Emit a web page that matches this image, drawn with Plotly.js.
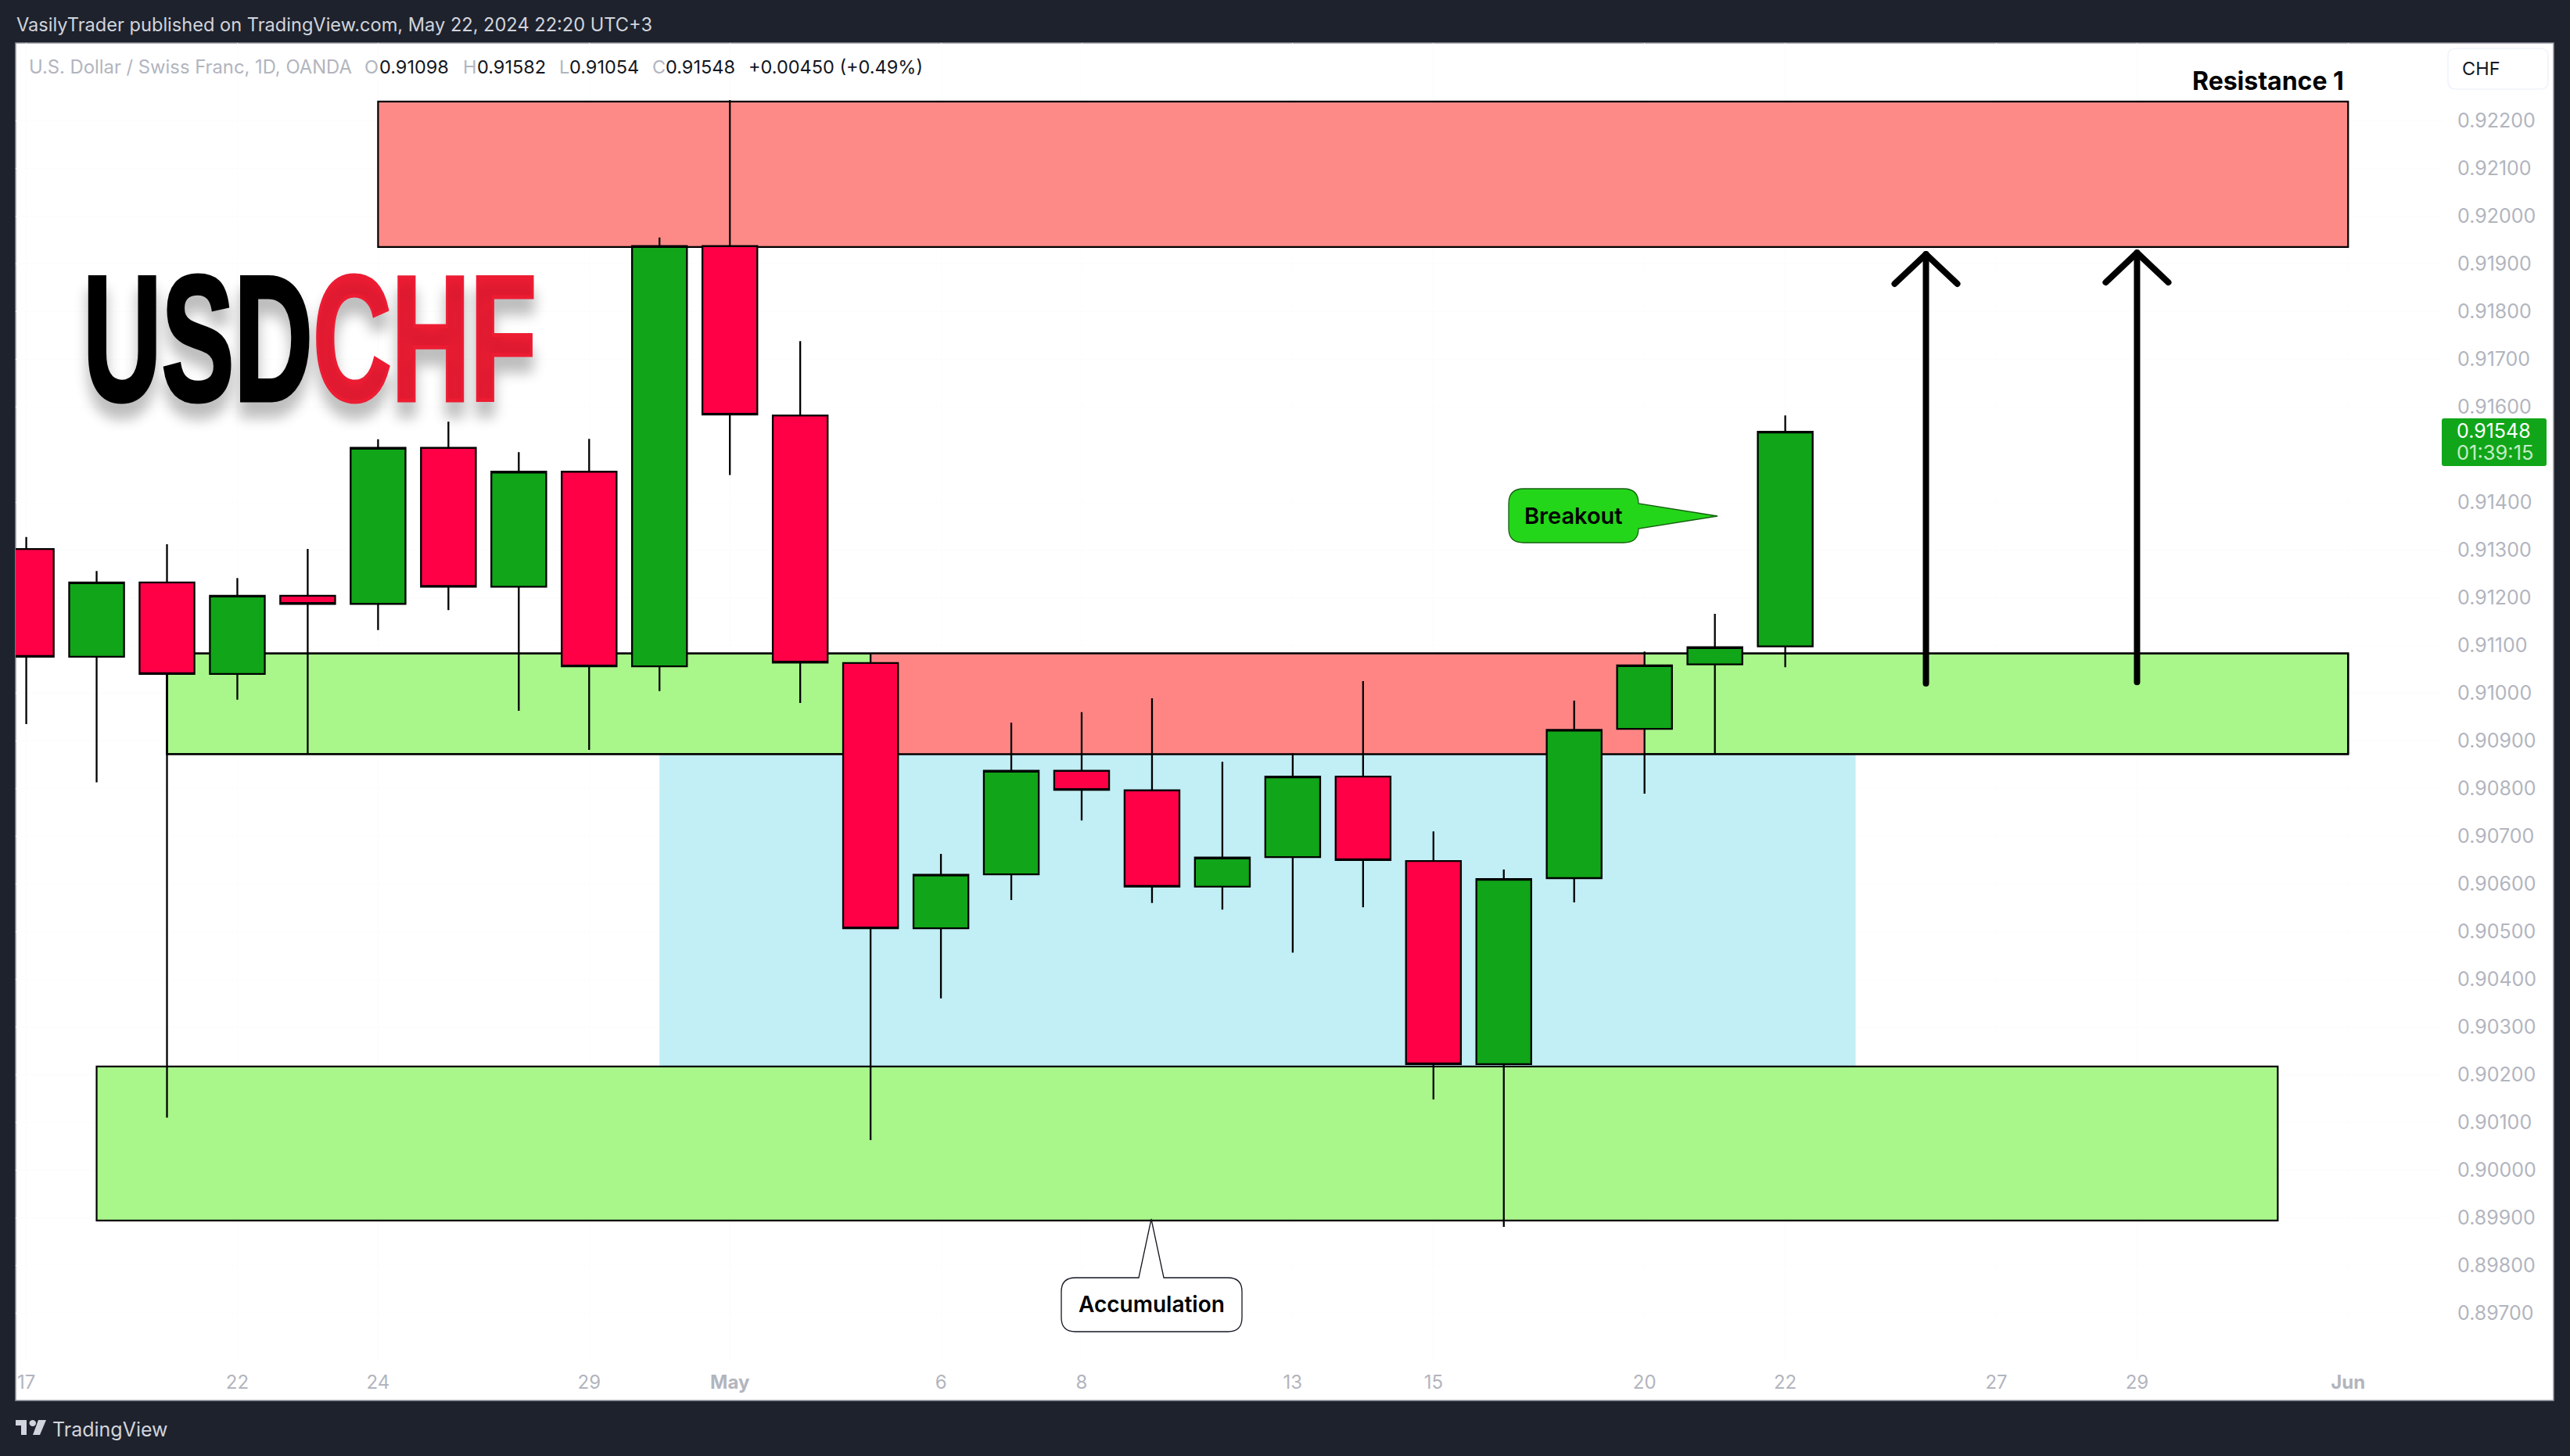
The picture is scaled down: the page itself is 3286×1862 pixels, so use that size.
<!DOCTYPE html>
<html>
<head>
<meta charset="utf-8">
<title>USDCHF</title>
<script src="https://cdn.plot.ly/plotly-3.0.1.min.js"></script>
<style>
	html, body {margin: 0; padding: 0; background: #1e222d;}
	#chart {width: 3286px; height: 1862px;}
</style>
</head>
<body>
<div id="chart"></div>
<script>
// daily candles, x is the trading day counted from Apr 17
var day_index = [0, 1, 2, 3, 4, 5, 6, 7, 8, 9, 10, 11, 12, 13, 14, 15, 16, 17, 18, 19, 20, 21, 22, 23, 24, 25];
var open_values = [0.91302, 0.91076, 0.91232, 0.91040, 0.91204, 0.91187, 0.91514, 0.91223, 0.91464, 0.91056, 0.91937, 0.91582, 0.91063, 0.90507, 0.90620, 0.90837, 0.90796, 0.90594, 0.90656, 0.90825, 0.90648, 0.90222, 0.90612, 0.90925, 0.91060, 0.91098];
var high_values = [0.91327, 0.91256, 0.91312, 0.91241, 0.91302, 0.91532, 0.91569, 0.91505, 0.91533, 0.91955, 0.92243, 0.91738, 0.91082, 0.90663, 0.90938, 0.90960, 0.90989, 0.90856, 0.90874, 0.91025, 0.90710, 0.90630, 0.90984, 0.91087, 0.91166, 0.91582];
var low_values = [0.90935, 0.90813, 0.90110, 0.90986, 0.90871, 0.91132, 0.91174, 0.90963, 0.90881, 0.91004, 0.91457, 0.90979, 0.90063, 0.90360, 0.90566, 0.90733, 0.90560, 0.90546, 0.90456, 0.90551, 0.90148, 0.89881, 0.90561, 0.90789, 0.90871, 0.91054];
var close_values = [0.91076, 0.91232, 0.91040, 0.91204, 0.91187, 0.91514, 0.91223, 0.91464, 0.91056, 0.91937, 0.91584, 0.91064, 0.90507, 0.90619, 0.90837, 0.90797, 0.90594, 0.90655, 0.90825, 0.90650, 0.90222, 0.90610, 0.90923, 0.91058, 0.91096, 0.91548];

// axis labels
var x_tick_days = [0, 3, 5, 8, 10, 13, 15, 18, 20, 23, 25, 28, 30, 33];
var x_tick_labels = ['17', '22', '24', '29', '<b>May</b>', '6', '8', '13', '15', '20', '22', '27', '29', '<b>Jun</b>'];
var y_tick_prices = [0.922, 0.921, 0.920, 0.919, 0.918, 0.917, 0.916, 0.914, 0.913, 0.912, 0.911, 0.910, 0.909, 0.908, 0.907, 0.906, 0.905, 0.904, 0.903, 0.902, 0.901, 0.900, 0.899, 0.898, 0.897];
var y_tick_labels = y_tick_prices.map(function(p){ return p.toFixed(5); });

// zones drawn on the chart: first day, last day, lower price, upper price
var resistance_zone = [5, 33, 0.91935, 0.92240];
var upper_support_zone = [2, 33, 0.90872, 0.91083];
var flipped_zone = [12, 23, 0.90872, 0.91083];
var accumulation_zone = [9, 26, 0.90217, 0.90872];
var lower_support_zone = [1, 32, 0.89894, 0.90217];

// the two arrows: day, price at the foot, price at the tip
var arrow_days = [27, 30];
var arrow_feet = [0.91020, 0.91023];
var arrow_tips = [0.91920, 0.91923];

// plot rectangle in page pixels, only used to place the page furniture
var plot_left = 20, plot_right = 3125, plot_top = 55, plot_bottom = 1740;
function fx(px){ return (px - plot_left) / (plot_right - plot_left); }
function fy(py){ return 1 - (py - plot_top) / (plot_bottom - plot_top); }
function pt(px, py){ return fx(px) + ',' + fy(py); }

function note(text, px, py, anchor, size, color, weight, family){
	return {
		text: text, xref: 'paper', yref: 'paper', x: fx(px), y: fy(py),
		xanchor: anchor, yanchor: 'middle', showarrow: false,
		font: {family: family || 'Inter', size: size, color: color, weight: weight || 400}
	};
}

function zone(z, fill, line){
	return {
		type: 'rect', layer: 'between', xref: 'x', yref: 'y',
		x0: z[0], x1: z[1], y0: z[2], y1: z[3],
		fillcolor: fill, line: line ? {color: '#000000', width: 2.2} : {width: 0}
	};
}

function pageBox(x0, y0, x1, y1, fill, line, width, r, layer){
	var path = 'M' + pt(x0 + r, y0) + ' L' + pt(x1 - r, y0) + ' Q' + pt(x1, y0) + ' ' + pt(x1, y0 + r) +
		' L' + pt(x1, y1 - r) + ' Q' + pt(x1, y1) + ' ' + pt(x1 - r, y1) +
		' L' + pt(x0 + r, y1) + ' Q' + pt(x0, y1) + ' ' + pt(x0, y1 - r) +
		' L' + pt(x0, y0 + r) + ' Q' + pt(x0, y0) + ' ' + pt(x0 + r, y0) + ' Z';
	return {type: 'path', layer: layer || 'above', xref: 'paper', yref: 'paper', path: path,
		fillcolor: fill, line: {color: line, width: width}};
}

function polygon(points, fill){
	var path = 'M' + points.map(function(p){ return pt(p[0], p[1]); }).join(' L') + ' Z';
	return {type: 'path', layer: 'above', xref: 'paper', yref: 'paper', path: path, fillcolor: fill, line: {width: 0}};
}

// candles first, then one line trace per arrow so they use the same axes
var candles = {
	type: 'candlestick',
	x: day_index, open: open_values, high: high_values, low: low_values, close: close_values,
	increasing: {line: {color: '#000000', width: 2.3}, fillcolor: '#11a519'},
	decreasing: {line: {color: '#000000', width: 2.3}, fillcolor: '#ff0047'},
	whiskerwidth: 0,
	hoverinfo: 'skip',
	showlegend: false
};
var data = [candles];
for (var i = 0; i < arrow_days.length; i++){
	data.push({
		type: 'scatter', mode: 'lines', hoverinfo: 'skip', showlegend: false,
		x: [arrow_days[i], arrow_days[i], null, arrow_days[i] - 0.445, arrow_days[i], arrow_days[i] + 0.445],
		y: [arrow_feet[i], arrow_tips[i], null, arrow_tips[i] - 0.00062, arrow_tips[i], arrow_tips[i] - 0.00062],
		line: {color: '#000000', width: 8}
	});
}

var shapes = [
	{type: 'rect', layer: 'below', xref: 'paper', yref: 'paper', x0: fx(20), x1: fx(3265), y0: fy(55), y1: fy(1791),
		fillcolor: '#ffffff', line: {color: '#9598a1', width: 1.5}},
	zone(resistance_zone, '#fd8a87', true),
	zone(accumulation_zone, '#c2eef5', false),
	zone(lower_support_zone, '#a9f68b', true),
	zone(upper_support_zone, '#a9f68b', true),
	zone(flipped_zone, '#ff8585', false),
	zone(upper_support_zone, 'rgba(0,0,0,0)', true),
	// price scale currency button and last price tag
	pageBox(3130, 62, 3258, 114, '#ffffff', '#f0f3fa', 1.5, 10),
	pageBox(3122, 535, 3256, 596, '#11a619', '#11a619', 0, 3),
	// tail of the accumulation note and the breakout note
	{type: 'path', layer: 'above', xref: 'paper', yref: 'paper', fillcolor: '#ffffff', line: {color: '#131722', width: 1.3},
		path: 'M' + pt(1375, 1634) + ' L' + pt(1456, 1634) + ' L' + pt(1472, 1559) + ' L' + pt(1488, 1634) + ' L' + pt(1570, 1634) +
			' Q' + pt(1588, 1634) + ' ' + pt(1588, 1652) + ' L' + pt(1588, 1685) + ' Q' + pt(1588, 1703) + ' ' + pt(1570, 1703) +
			' L' + pt(1375, 1703) + ' Q' + pt(1357, 1703) + ' ' + pt(1357, 1685) + ' L' + pt(1357, 1652) + ' Q' + pt(1357, 1634) + ' ' + pt(1375, 1634) + ' Z'},
	{type: 'path', layer: 'above', xref: 'paper', yref: 'paper', fillcolor: '#24d61a', line: {color: '#14600f', width: 1.3},
		path: 'M' + pt(1948, 625) + ' L' + pt(2076, 625) + ' Q' + pt(2095, 625) + ' ' + pt(2095, 644) + ' L' + pt(2196, 660) + ' L' + pt(2095, 676) +
			' Q' + pt(2095, 694) + ' ' + pt(2076, 694) + ' L' + pt(1948, 694) + ' Q' + pt(1929, 694) + ' ' + pt(1929, 676) + ' L' + pt(1929, 644) + ' Q' + pt(1929, 625) + ' ' + pt(1948, 625) + ' Z'},
	// TradingView mark in the footer
	polygon([[20, 1816], [34, 1816], [34, 1835], [27, 1835], [27, 1823], [20, 1823]], '#d1d4dc'),
	{type: 'circle', layer: 'above', xref: 'paper', yref: 'paper', x0: fx(37.5), x1: fx(46), y0: fy(1816), y1: fy(1824), fillcolor: '#d1d4dc', line: {width: 0}},
	polygon([[49, 1816], [59, 1816], [51, 1835], [42, 1835]], '#d1d4dc')
];

var grey = '#b2b5be';
var annotations = [
	note('VasilyTrader published on TradingView.com, May 22, 2024 22:20 UTC+3', 19, 32, 'left', 23.6, '#d1d4dc'),
	note('U.S. Dollar / Swiss Franc, 1D, OANDA', 35, 86, 'left', 23.8, grey),
	note('O', 464, 86, 'left', 23.5, grey),
	note('0.91098', 483, 86, 'left', 23.5, '#131722'),
	note('H', 590, 86, 'left', 23.5, grey),
	note('0.91582', 608, 86, 'left', 23.5, '#131722'),
	note('L', 713, 86, 'left', 23.5, grey),
	note('0.91054', 726, 86, 'left', 23.5, '#131722'),
	note('C', 832, 86, 'left', 23.5, grey),
	note('0.91548', 849, 86, 'left', 23.5, '#131722'),
	note('+0.00450 (+0.49%)', 955, 86, 'left', 23.5, '#131722'),
	note('Resistance 1', 2999, 103, 'right', 32, '#000000', 700),
	note('CHF', 3146, 88, 'left', 23.5, '#131722'),
	note('0.91548', 3139, 551, 'left', 25, '#ffffff'),
	note('01:39:15', 3139, 579, 'left', 25.5, '#c5ecc7'),
	note('Breakout', 2012, 659, 'center', 29, '#000000', 600),
	note('Accumulation', 1472, 1668, 'center', 28, '#000000', 600),
	note('TradingView', 65, 1828, 'left', 25, '#d1d4dc')
];
var logo = note('USD<span style="color:#ec1c33">CHF</span>', 396, 433, 'center', 228, '#000000', 700, 'Liberation Sans');
logo.font.shadow = '0px 16px 18px rgba(0,0,0,0.25)';
annotations.push(logo);

var layout = {
	width: 3286,
	height: 1862,
	paper_bgcolor: '#1e222d',
	plot_bgcolor: 'rgba(0,0,0,0)',
	margin: {l: plot_left, r: 3286 - plot_right, t: plot_top, b: 1862 - plot_bottom, pad: 0},
	showlegend: false,
	boxgap: 0.22,
	boxgroupgap: 0,
	xaxis: {
		type: 'linear', range: [-0.151, 34.364], rangeslider: {visible: false},
		tickmode: 'array', tickvals: x_tick_days, ticktext: x_tick_labels,
		ticks: 'outside', ticklen: 6, tickcolor: 'rgba(0,0,0,0)',
		tickfont: {family: 'Inter', size: 24, color: grey},
		showgrid: true, gridcolor: '#fcfcfd', showline: false, zeroline: false
	},
	yaxis: {
		range: [0.896005, 0.923628], side: 'right',
		tickmode: 'array', tickvals: y_tick_prices, ticktext: y_tick_labels,
		ticks: 'outside', ticklen: 11, tickcolor: 'rgba(0,0,0,0)',
		tickfont: {family: 'Inter', size: 25, color: grey},
		showgrid: true, gridcolor: '#fcfcfd', showline: false, zeroline: false
	},
	shapes: shapes,
	annotations: annotations
};

Plotly.newPlot('chart', data, layout, {staticPlot: true, displayModeBar: false}).then(function(){
	// round ends on the arrows, condensed heavy letters on the pair name
	document.querySelectorAll('.scatterlayer .js-line').forEach(function(el){
		el.style.strokeLinecap = 'round';
		el.style.strokeLinejoin = 'round';
	});
	document.querySelectorAll('text.annotation-text').forEach(function(el){
		if (el.textContent !== 'USDCHF') return;
		var box = el.getBBox();
		var sx = 580 / box.width;
		var cx = box.x + box.width / 2;
		el.setAttribute('transform', 'translate(' + (cx * (1 - sx)) + ',0) scale(' + sx + ',1)');
		el.style.stroke = '#000000';
		el.style.strokeWidth = '5px';
		el.querySelectorAll('tspan').forEach(function(t){
			if (t.textContent === 'CHF') t.style.stroke = '#ec1c33';
		});
	});
});
</script>
</body>
</html>
